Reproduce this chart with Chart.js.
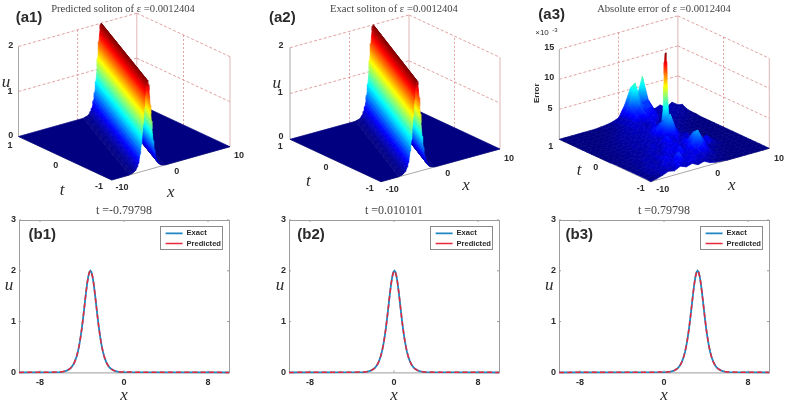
<!DOCTYPE html>
<html><head><meta charset="utf-8">
<style>html,body{margin:0;padding:0;background:#fff;width:795px;height:406px;overflow:hidden}
canvas{position:absolute;display:block;filter:blur(0.35px)}</style>
<script src="https://cdn.jsdelivr.net/npm/chart.js@4"></script>
</head><body>
<script>
// ---------- values ----------
const solitonOffset=[-3,-2.8,-2.6,-2.4,-2.2,-2,-1.9,-1.8,-1.7,-1.6,-1.5,-1.4,-1.3,-1.2,-1.1,-1,-0.9,-0.8,-0.7,-0.6,-0.5,-0.4,-0.3,-0.2,-0.1,0,0.1,0.2,0.3,0.4,0.5,0.6,0.7,0.8,0.9,1,1.1,1.2,1.3,1.4,1.5,1.6,1.7,1.8,1.9,2,2.2,2.4,2.6,2.8,3];
const exactU=[0.006,0.01,0.016,0.025,0.04,0.065,0.082,0.104,0.131,0.165,0.207,0.26,0.324,0.403,0.497,0.61,0.742,0.892,1.059,1.239,1.423,1.602,1.762,1.889,1.972,2,1.972,1.889,1.762,1.602,1.423,1.239,1.059,0.892,0.742,0.61,0.497,0.403,0.324,0.26,0.207,0.165,0.131,0.104,0.082,0.065,0.04,0.025,0.016,0.01,0.006];
const predictedU=[0.006,0.01,0.016,0.025,0.04,0.065,0.082,0.104,0.131,0.165,0.208,0.26,0.325,0.403,0.497,0.61,0.742,0.893,1.06,1.24,1.423,1.602,1.762,1.888,1.971,1.999,1.971,1.888,1.761,1.601,1.423,1.239,1.059,0.892,0.742,0.61,0.497,0.403,0.324,0.26,0.207,0.165,0.131,0.104,0.082,0.065,0.04,0.025,0.016,0.01,0.006];
const solitonSpeed=4;
const profileTimes=["-0.79798","0.010101","0.79798"];
const profileCentres=[-3.2,0.04,3.2];
const xTickValues=[-8,0,8];
const uTickValues=[0,1,2,3];
const errorX=[-10,-9,-8,-7,-6,-5,-4,-3,-2,-1,0,1,2,3,4,5,6,7,8,9,10];
const errorT=[1,0.9,0.8,0.7,0.6,0.5,0.4,0.3,0.2,0.1,0,-0.1,-0.2,-0.3,-0.4,-0.5,-0.6,-0.7,-0.8,-0.9,-1];
const errorE3=[
[0,0,0,0,0,0,0,.1,.2,.4,.8,2.6,5.2,3,6.6,2.4,.6,1,.3,.9,.2],
[0,0,0,0,0,0,0,.1,.2,.5,1,3,6.4,2.8,3,1.2,1,.4,.8,.3,.6],
[0,0,0,0,0,0,.1,.2,.3,.6,1.2,2.2,3,2.4,2.2,.8,.3,.9,.4,.7,.2],
[0,0,0,0,0,.1,.1,.2,.4,.7,1.3,1.8,2.4,1.4,1.4,.4,.9,.3,.7,.2,.1],
[0,0,0,0,.1,.1,.3,.4,.7,.9,1.4,.8,1.3,1.7,.5,.8,.2,.7,.3,.2,.1],
[0,0,0,.1,.1,.2,.4,.5,.9,.6,1.3,.6,1.6,.5,1.1,.3,.6,.2,.2,.1,0],
[0,0,0,.1,.2,.3,.5,.8,.4,1.2,.7,1.4,.6,1.2,.3,.7,.2,.1,.1,0,0],
[0,0,.1,.1,.2,.4,.6,.3,1,.6,1.3,1.6,.7,.4,.8,.2,.2,.1,0,0,0],
[0,0,.1,.2,.3,.5,.3,.9,.5,1.1,1.8,2.6,1.1,.7,.3,.2,.1,0,0,0,0],
[0,.1,.1,.2,.3,.6,.8,.4,1,1.2,2.6,3.4,2.4,.9,.4,.2,.1,0,0,0,0],
[0,.1,.1,.2,.5,.3,.9,.5,1.2,.7,1.8,4.6,1.8,.6,.6,.1,0,0,0,0,0],
[0,.1,.2,.4,.3,.7,.4,1.1,.6,1.4,.7,2.1,.8,1.3,.3,.1,0,0,0,0,0],
[.1,.1,.2,.3,.6,.4,1,1.3,.7,2.2,1.2,.7,1.1,.4,.7,.1,.1,0,0,0,0],
[.1,.2,.3,.5,.3,.8,1.2,.6,1.6,1.4,.8,1.5,.6,1,.8,.5,.1,0,0,0,0],
[.1,.2,.2,.6,.9,.5,1,1.5,1,1.8,.9,2,1.4,.7,1.7,.8,.2,0,0,0,0],
[.1,.2,.4,.4,1,1.2,.7,1.8,1.2,.8,1.6,3.4,2.4,.8,.7,.2,.1,0,0,0,0],
[.1,.3,.5,.8,.5,1.4,1.6,.9,2.2,1.1,2.4,4.1,2.2,.5,.2,.1,0,0,0,0,0],
[.1,.4,.7,1.1,.7,1.7,1.1,2,1,1.6,1.8,2.3,1.1,.3,.2,0,0,0,0,0,0],
[.1,.3,.8,.5,1.5,.9,2.4,1.2,1.7,1,1.4,.9,.5,.2,.1,0,0,0,0,0,0],
[.1,.4,.6,1.2,.7,1.8,1.3,.9,1.5,.7,1,.4,.2,.1,0,0,0,0,0,0,0],
[0,.2,.5,.9,.7,1.2,.8,1.1,.6,.9,.4,.2,.1,0,0,0,0,0,0,0,0]];
const spikeX=1;
const spikeT=0.1;
const spikeHeight=[3.4,5,7,9,11,13,14.5];
const spikeHalfWidth=[0.65,0.45,0.36,0.3,0.25,0.2,0.1];

// ---------- shared styles ----------
const SANS='"Liberation Sans", Arial, sans-serif', SERIF='"Liberation Serif", serif';
const INK='#2b2b2b', WALL='#d98a8a', AXIS='#a8a8a8';
const clamp=v=>Math.max(0,Math.min(1,v));
function jet(v){v=clamp(v);
  const c=k=>Math.round(255*clamp(1.5-Math.abs(4*v-k)));
  return `rgb(${c(3)},${c(2)},${c(1)})`;}
Chart.defaults.animation=false;
function gradientFill(p0,p1,v0,v1,fallback){
  let cached=null;
  return (ctx)=>{const ch=ctx.chart,sx=ch.scales.x,sy=ch.scales.y;
    if(!ch.chartArea)return fallback;
    if(cached)return cached;
    const g=ch.ctx.createLinearGradient(sx.getPixelForValue(p0.x),sy.getPixelForValue(p0.y),sx.getPixelForValue(p1.x),sy.getPixelForValue(p1.y));
    for(let i=0;i<=8;i++)g.addColorStop(i/8,jet(v0+(v1-v0)*i/8));
    cached=g;return g;};
}

function addChart(left,top,width,height,config){
  const cv=document.createElement('canvas');
  cv.style.left=left+'px';cv.style.top=top+'px';
  cv.style.width=width+'px';cv.style.height=height+'px';
  cv.width=width;cv.height=height;
  document.body.appendChild(cv);
  config.options.responsive=false;config.options.devicePixelRatio=1;
  config.options.events=[];
  return new Chart(cv.getContext('2d'),config);
}
function textPlugin(items,toPx){return{id:'panelText',afterDraw(chart){
  const ctx=chart.ctx;ctx.save();
  for(const it of items){
    const [px,py]=toPx(chart,it.x,it.y);
    ctx.save();ctx.translate(px,py);if(it.rot)ctx.rotate(it.rot);
    ctx.font=it.font;ctx.fillStyle=it.color||INK;ctx.textAlign='center';ctx.textBaseline='middle';
    ctx.fillText(it.text,0,0);ctx.restore();
  }
  ctx.restore();}};}

// ---------- 3D panels: a hidden pair of linear scales carries the projected view ----------
function surfacePanel(p){
  const ux=(p.R[0]-p.F[0])/20, uy=(p.R[1]-p.F[1])/20, tx=(p.L[0]-p.F[0])/2, ty=(p.L[1]-p.F[1])/2;
  const proj=(x,t,u)=>({x:p.F[0]+(x+10)*ux+(t+1)*tx, y:p.F[1]+(x+10)*uy+(t+1)*ty-u*p.k});
  const seq=[];
  const line=(pts,color,dash,w)=>seq.push({type:'scatter',showLine:true,data:pts,borderColor:color,borderDash:dash||[],borderWidth:w||0.8,pointRadius:0,fill:false,clip:false,tension:0});
  const poly=(pts,bg)=>seq.push({type:'scatter',showLine:true,data:pts.concat([pts[0]]),backgroundColor:bg,borderColor:bg,borderDash:[],borderWidth:0.7,pointRadius:0,fill:'shape',clip:false,tension:0});
  const top=p.ticks[p.ticks.length-1];
  for(const u of p.ticks){
    line([proj(-10,1,u),proj(10,1,u)],WALL,[3,2]);
    line([proj(10,1,u),proj(10,-1,u)],WALL,[3,2]);
  }
  line([proj(0,1,0),proj(0,1,top)],WALL,[2,2]);
  line([proj(10,0,0),proj(10,0,top)],WALL,[2,2]);
  line([proj(10,1,0),proj(10,1,top)],'#d8a5a5');
  line([proj(10,-1,0),proj(10,-1,top)],'#d8a5a5');
  line([proj(-10,1,0),proj(-10,1,top)],AXIS,[],1);
  line([proj(-10,-1,0),proj(10,-1,0)],AXIS,[],1);
  line([proj(-10,-1,0),proj(-10,1,0)],AXIS,[],1);
  p.draw(proj,poly);
  seq.forEach((d,i)=>d.order=seq.length-i);
  return addChart(p.left,0,p.width,205,{type:'scatter',data:{datasets:seq},
    options:{layout:{padding:0},
      scales:{x:{type:'linear',display:false,min:p.left,max:p.left+p.width},
              y:{type:'linear',display:false,reverse:true,min:15,max:205}},
      plugins:{legend:{display:false},tooltip:{enabled:false},
        title:{display:true,text:p.title,color:'#444',font:{family:SERIF,size:10.6,weight:'normal',lineHeight:1.13},padding:{top:3,bottom:0}}}},
    plugins:[textPlugin(p.texts,(c,x,y)=>[c.scales.x.getPixelForValue(x),c.scales.y.getPixelForValue(y)])]});
}
function ridge(values){return(proj,poly)=>{
  const s=solitonSpeed, first=solitonOffset[0], last=solitonOffset[solitonOffset.length-1];
  poly([proj(last-s,-1,0),proj(10,-1,0),proj(10,1,0),proj(last+s,1,0)],jet(0));
  poly([proj(-10,-1,0),proj(first-s,-1,0),proj(first+s,1,0),proj(-10,1,0)],jet(0));
  for(let i=solitonOffset.length-2;i>=0;i--){
    const a=solitonOffset[i],b=solitonOffset[i+1],ua=values[i],ub=values[i+1];
    const A0=proj(a-s,-1,ua),B0=proj(b-s,-1,ub),B1=proj(b+s,1,ub),A1=proj(a+s,1,ua);
    // shade across the strip: the gradient runs along the normal of the strip's long side
    const dx=A1.x-A0.x,dy=A1.y-A0.y,len=dx*dx+dy*dy;
    const k=((B0.x-A0.x)*dx+(B0.y-A0.y)*dy)/len;
    const foot={x:B0.x-k*dx,y:B0.y-k*dy};
    poly([A0,B0,B1,A1],gradientFill(A0,foot,ua/2,ub/2,jet((ua+ub)/4)));
  }};}
function errorSurface(proj,poly){
  const vmax=14.5;
  for(let r=0;r<errorT.length-1;r++){
    for(let c=errorX.length-2;c>=0;c--){
      const hs=[errorE3[r][c],errorE3[r][c+1],errorE3[r+1][c+1],errorE3[r+1][c]];
      const pts=[proj(errorX[c],errorT[r],hs[0]),proj(errorX[c+1],errorT[r],hs[1]),proj(errorX[c+1],errorT[r+1],hs[2]),proj(errorX[c],errorT[r+1],hs[3])];
      const lo=Math.min(...hs),hi=Math.max(...hs);
      const mean=(hs[0]+hs[1]+hs[2]+hs[3])/4/vmax;
      poly(pts,hi-lo>0.8?gradientFill(pts[hs.indexOf(lo)],pts[hs.indexOf(hi)],lo/vmax,hi/vmax,jet(mean)):jet(mean));
    }
    if(errorT[r]>spikeT-0.01&&errorT[r]<spikeT+0.01){
      for(let j=0;j<spikeHeight.length-1;j++){
        const h0=spikeHeight[j],h1=spikeHeight[j+1],w0=spikeHalfWidth[j],w1=spikeHalfWidth[j+1];
        const a=proj(spikeX-w0,spikeT,h0),b=proj(spikeX+w0,spikeT,h0),c=proj(spikeX+w1,spikeT,h1),d=proj(spikeX-w1,spikeT,h1);
        poly([a,b,c,d],gradientFill({x:a.x,y:a.y},{x:a.x,y:d.y},h0/vmax,h1/vmax,jet((h0+h1)/2/vmax)));
      }
    }
  }
}
const bold9='bold 9px '+SANS, label15='bold 15px '+SANS, ital='italic 17px '+SERIF;
surfacePanel({left:0,width:246,F:[111.7,180],R:[230,146.7],L:[18.5,136.5],k:45,ticks:[1,2],
  title:'Predicted soliton of ε =0.0012404',draw:ridge(predictedU),
  texts:[{text:'(a1)',x:29,y:18,font:label15},{text:'2',x:10.7,y:46,font:bold9},{text:'1',x:10,y:91.7,font:bold9},{text:'0',x:10.7,y:136,font:bold9},
   {text:'1',x:10,y:145.7,font:bold9},{text:'0',x:55.7,y:165.7,font:bold9},{text:'-1',x:99,y:186.7,font:bold9},
   {text:'-10',x:122,y:187.7,font:bold9},{text:'0',x:176.7,y:171.7,font:bold9},{text:'10',x:239,y:155.7,font:bold9},
   {text:'u',x:6,y:83,font:ital},{text:'t',x:62,y:191,font:ital},{text:'x',x:170.7,y:193,font:ital}]});
surfacePanel({left:265,width:258,F:[381,181.7],R:[500,149],L:[290,139.3],k:45.8,ticks:[1,2],
  title:'Exact soliton of ε =0.0012404',draw:ridge(exactU),
  texts:[{text:'(a2)',x:282.3,y:18.3,font:label15},{text:'2',x:281,y:46,font:bold9},{text:'1',x:280.3,y:92.7,font:bold9},{text:'0',x:281,y:137,font:bold9},
   {text:'1',x:280.3,y:146.7,font:bold9},{text:'0',x:326,y:167.7,font:bold9},{text:'-1',x:369.7,y:189,font:bold9},
   {text:'-10',x:392.3,y:190,font:bold9},{text:'0',x:447.7,y:174,font:bold9},{text:'10',x:509,y:158.3,font:bold9},
   {text:'u',x:276.7,y:84,font:ital},{text:'t',x:308.3,y:182,font:ital},{text:'x',x:466,y:186,font:ital}]});
surfacePanel({left:533,width:262,F:[650.7,181.7],R:[769.3,148.3],L:[559.3,139.3],k:6,ticks:[5,10,15],
  title:'Absolute error of ε =0.0012404',draw:errorSurface,
  texts:[{text:'(a3)',x:551.7,y:15,font:label15},{text:'15',x:549.3,y:47.7,font:bold9},{text:'10',x:549.3,y:77.7,font:bold9},{text:'5',x:550,y:109,font:bold9},
   {text:'×10',x:542,y:33,font:'8px '+SANS},{text:'-3',x:555,y:30,font:'6px '+SANS},
   {text:'Error',x:536.7,y:93.3,rot:-Math.PI/2,font:'bold 8px '+SANS},
   {text:'1',x:550.7,y:146.7,font:bold9},{text:'0',x:595.7,y:167.7,font:bold9},{text:'-1',x:640.7,y:189,font:bold9},
   {text:'-10',x:662.7,y:190,font:bold9},{text:'0',x:717.7,y:174,font:bold9},{text:'10',x:779,y:158.3,font:bold9},
   {text:'t',x:579,y:171,font:ital},{text:'x',x:731.7,y:186,font:ital}]});

// ---------- 2D profile panels ----------
function profilePanel(i,left,plotL,plotR,name,labelX,uX){
  const width=plotR-left+26, cTop=200, cH=206, plotBottom=172.4;
  const series=vals=>[{x:-10,y:0}].concat(solitonOffset.map((o,k)=>({x:profileCentres[i]+o,y:vals[k]})),[{x:10,y:0}]);
  addChart(left,cTop,width,cH,{type:'scatter',data:{datasets:[
    {label:'Exact',data:series(exactU),showLine:true,borderColor:'#1f86c2',backgroundColor:'#1f86c2',borderWidth:1.8,pointRadius:0,clip:false,order:2,tension:0},
    {label:'Predicted',data:series(predictedU),showLine:true,borderColor:'#e6283a',backgroundColor:'#e6283a',borderWidth:1.5,borderDash:[5,3.2],pointRadius:0,clip:false,order:1,tension:0}]},
   options:{layout:{padding:{left:plotL-left-19,right:width-(plotR-left),top:0,bottom:0}},
    scales:{
     x:{type:'linear',min:-10,max:10,afterBuildTicks:s=>{s.ticks=xTickValues.map(v=>({value:v}));},
        afterFit:s=>{s.height=cH-plotBottom;},
        grid:{display:false,drawTicks:false},border:{display:false},
        ticks:{color:INK,font:{family:SANS,size:9,weight:'bold'},padding:5,maxRotation:0},
        title:{display:true,text:'x',color:INK,font:{family:SERIF,size:17,style:'italic'},padding:{top:0,bottom:0}}},
     y:{type:'linear',min:0,max:3,afterBuildTicks:s=>{s.ticks=uTickValues.map(v=>({value:v}));},
        afterFit:s=>{s.width=19;},
        grid:{display:false,drawTicks:false},border:{display:false},
        ticks:{color:INK,font:{family:SANS,size:9,weight:'bold'},padding:3}}},
    plugins:{tooltip:{enabled:false},
      title:{display:true,fullSize:false,text:'t ='+profileTimes[i],color:'#444',font:{family:SERIF,size:12,weight:'normal',lineHeight:1},padding:{top:5,bottom:3}},
      legend:{display:true,position:'chartArea',align:'start',labels:{boxWidth:17,boxHeight:0,color:INK,padding:2.6,sort:(a,b)=>a.datasetIndex-b.datasetIndex,font:{family:SANS,size:7.6,weight:'bold'}}}}},
   plugins:[{id:'frame',
     afterLayout(ch){const a=ch.chartArea,l=ch.legend;
       const w=l.width,h=l.height;l.left=a.right-66;l.right=l.left+w;l.top=a.top+7;l.bottom=l.top+h;},
     beforeDatasetsDraw(ch){const a=ch.chartArea,c=ch.ctx,sx=ch.scales.x,sy=ch.scales.y;
       c.save();c.strokeStyle='#9c9c9c';c.lineWidth=1;
       c.strokeRect(a.left+.5,a.top+.5,a.width,a.height);
       c.beginPath();
       for(const v of xTickValues){const p=sx.getPixelForValue(v);c.moveTo(p,a.bottom);c.lineTo(p,a.bottom-2);c.moveTo(p,a.top);c.lineTo(p,a.top+2);}
       for(const v of uTickValues){const p=sy.getPixelForValue(v);c.moveTo(a.left,p);c.lineTo(a.left+2,p);c.moveTo(a.right,p);c.lineTo(a.right-2,p);}
       c.stroke();
       c.strokeStyle='#8a8a8a';
       c.strokeRect(a.right-68.5,a.top+6.5,62,23);
       c.restore();}},
     textPlugin([{text:name,x:labelX,y:35,font:label15},{text:'u',x:uX,y:86,font:ital}],(c,x,y)=>[x-left,y])]});
}
profilePanel(0,0,19,229,'(b1)',42.3,9);
profilePanel(1,265,289,499,'(b2)',311,280);
profilePanel(2,533,559,769,'(b3)',579.3,549.3);
</script>
</body></html>
